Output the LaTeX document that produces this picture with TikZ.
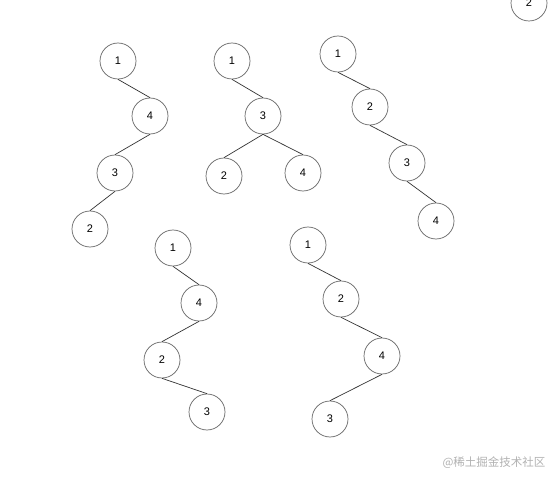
\documentclass[tikz,border=0pt]{standalone}
\usepackage{fontspec}
\setmainfont{Liberation Sans}
\newfontfamily\cjk{Noto Sans CJK SC}
\begin{document}
\begin{tikzpicture}[x=1pt,y=-1pt,
  tn/.style={circle,draw=black!60,line width=0.7pt,minimum size=36pt,inner sep=0pt,font=\fontsize{11}{11}\selectfont},
  ed/.style={draw=black!80,line width=0.7pt}]
\path[use as bounding box,fill=white] (0,0) rectangle (560,484);
% tree 1
\node[tn] (a1) at (118,61) {1};
\node[tn] (a4) at (150,116) {4};
\node[tn] (a3) at (115,173) {3};
\node[tn] (a2) at (90,229) {2};
\draw[ed] (a1.south) -- (a4.north);
\draw[ed] (a4.south) -- (a3.north);
\draw[ed] (a3.south) -- (a2.north);
% tree 2
\node[tn] (b1) at (232,61) {1};
\node[tn] (b3) at (263,116) {3};
\node[tn] (b2) at (224,176) {2};
\node[tn] (b4) at (303,173) {4};
\draw[ed] (b1.south) -- (b3.north);
\draw[ed] (b3.south) -- (b2.north);
\draw[ed] (b3.south) -- (b4.north);
% tree 3
\node[tn] (c1) at (338,54) {1};
\node[tn] (c2) at (370,107) {2};
\node[tn] (c3) at (407,163) {3};
\node[tn] (c4) at (436,221) {4};
\draw[ed] (c1.south) -- (c2.north);
\draw[ed] (c2.south) -- (c3.north);
\draw[ed] (c3.south) -- (c4.north);
% tree 4
\node[tn] (d1) at (173,248) {1};
\node[tn] (d4) at (199,303) {4};
\node[tn] (d2) at (162,360) {2};
\node[tn] (d3) at (207,412) {3};
\draw[ed] (d1.south) -- (d4.north);
\draw[ed] (d4.south) -- (d2.north);
\draw[ed] (d2.south) -- (d3.north);
% tree 5
\node[tn] (e1) at (308,245) {1};
\node[tn] (e2) at (341,299) {2};
\node[tn] (e4) at (382,356) {4};
\node[tn] (e3) at (330,419) {3};
\draw[ed] (e1.south) -- (e2.north);
\draw[ed] (e2.south) -- (e4.north);
\draw[ed] (e4.south) -- (e3.north);
% partial node top right
\begin{scope}
\clip (0,0) rectangle (560,484);
\node[tn] (f2) at (529,3) {2};
\end{scope}
% watermark
\node[text=black!30,font=\cjk\fontsize{11.5}{11.5}\selectfont,inner sep=0pt] (wm) at (494,463) {@稀土掘金技术社区};
\end{tikzpicture}
\end{document}
